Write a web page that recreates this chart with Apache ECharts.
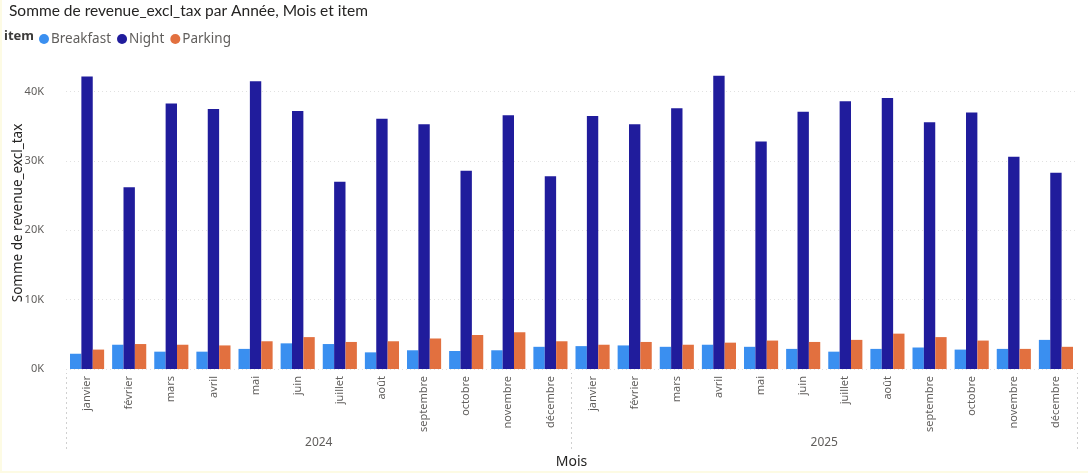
<!DOCTYPE html>
<html>
<head>
<meta charset="utf-8">
<script src="https://cdn.jsdelivr.net/npm/echarts@6/dist/echarts.min.js"></script>
<style>
html,body{margin:0;padding:0;background:#fff;}
#main{width:1086px;height:471px;border-left:2px solid #FDFBE4;border-bottom:2px solid #FDFBE4;}
</style>
</head>
<body>
<div id="main"></div>
<script>
var months = ['janvier','février','mars','avril','mai','juin','juillet','août','septembre','octobre','novembre','décembre'];
var years = ['2024','2025'];
// valeurs (en euros)
var breakfast = [2200,3500,2500,2500,2900,3700,3600,2400,2700,2600,2700,3200,
                 3300,3400,3200,3500,3200,2900,2500,2900,3100,2800,2900,4200];
var night = [42200,26200,38300,37500,41500,37200,27000,36100,35300,28600,36600,27800,
             36500,35300,37600,42300,32800,37100,38600,39100,35600,37000,30600,28300];
var parking = [2800,3600,3500,3400,4000,4600,3900,4000,4400,4900,5300,4000,
               3500,3900,3500,3800,4100,3900,4200,5100,4600,4100,2900,3200];

var cats = [];
years.forEach(function(y){
    months.forEach(function(m){ cats.push(m) })
})

var font = 'Noto Sans';
var myChart = echarts.init(document.getElementById('main'));
option = {
    animation: false,
    textStyle: {fontFamily: font},
    title: {
        text: 'Somme de revenue_excl_tax par Année, Mois et item',
        left: 2,
        top: -2,
        textStyle: {fontSize: 15.5, fontWeight: 'normal', color: '#252423', fontFamily: 'Lato'}
    },
    graphic: [{
        type: 'text',
        left: 2,
        top: 30,
        style: {text: 'item', font: 'bold 13px "Noto Sans"', fill: '#3B3A39'}
    }],
    legend: {
        left: 32,
        top: 27,
        icon: 'circle',
        itemWidth: 10,
        itemHeight: 10,
        itemGap: 6,
        textStyle: {fontSize: 13.5, color: '#605E5C', padding: [0, 0, 0, -3]},
        data: ['Breakfast', 'Night', 'Parking']
    },
    grid: {left: 64, right: 11, top: 57, bottom: 102, outerBoundsMode: 'none', containLabel: false},
    xAxis: [{
        type: 'category',
        data: cats,
        axisLine: {show: false},
        axisTick: {show: false},
        axisLabel: {rotate: 90, interval: 0, fontSize: 11, color: '#605E5C', margin: 7}
    }, {
        type: 'category',
        data: years,
        position: 'bottom',
        offset: 80,
        axisLine: {show: false},
        axisTick: {show: true, inside: true, length: 76, lineStyle: {color: '#D0D0D0', type: [2, 3]}},
        axisLabel: {fontSize: 12, color: '#605E5C', margin: -12},
        name: 'Mois',
        nameLocation: 'middle',
        nameGap: 5,
        nameTextStyle: {fontSize: 14, color: '#252423'}
    }],
    yAxis: {
        type: 'value',
        min: 0,
        max: 45000,
        interval: 10000,
        name: 'Somme de revenue_excl_tax',
        nameLocation: 'middle',
        nameGap: 41,
        nameMoveOverlap: false,
        nameTextStyle: {fontSize: 13.5, color: '#252423'},
        axisLabel: {
            fontSize: 11,
            color: '#605E5C',
            showMaxLabel: false,
            margin: 22,
            formatter: function(v){ return (v / 1000) + 'K' }
        },
        splitLine: {showMaxLine: false, lineStyle: {color: '#E1E1E1', type: [1, 3]}}
    },
    series: [
        {name: 'Breakfast', type: 'bar', data: breakfast, itemStyle: {color: '#3A8FF0'}, barGap: '0%', barCategoryGap: '19%'},
        {name: 'Night', type: 'bar', data: night, itemStyle: {color: '#201C9C'}},
        {name: 'Parking', type: 'bar', data: parking, itemStyle: {color: '#E2703F'}}
    ]
};
myChart.setOption(option);
</script>
</body>
</html>
